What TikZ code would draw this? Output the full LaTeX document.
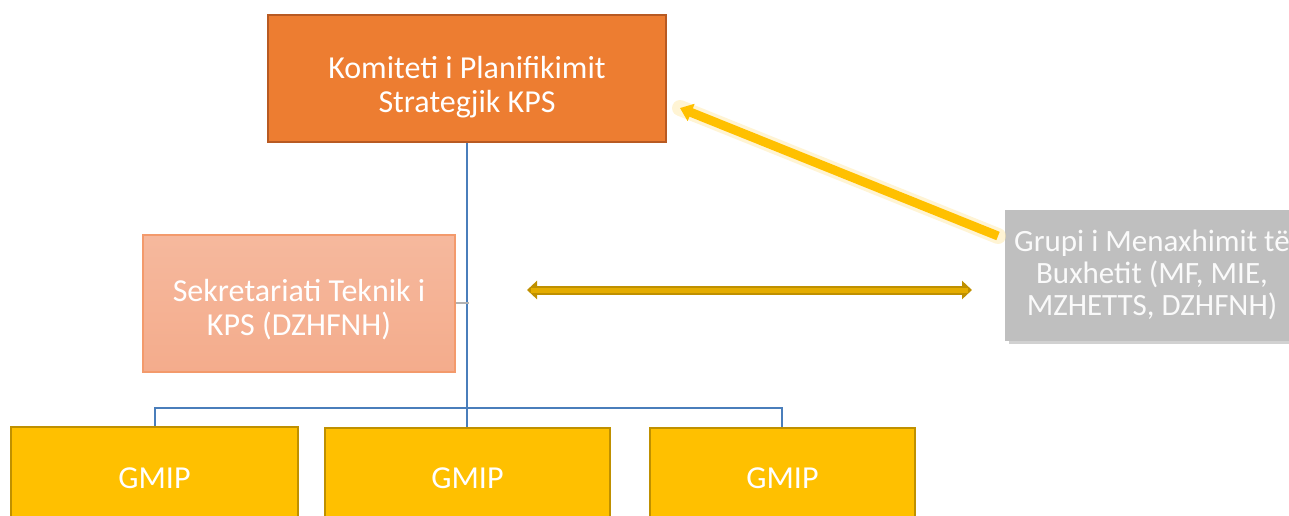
\documentclass[tikz,border=0pt]{standalone}
\usepackage{fontspec}
\setmainfont{Carlito}
\usetikzlibrary{arrows.meta,calc}
\definecolor{korange}{HTML}{ED7D31}
\definecolor{korangeb}{HTML}{B85A22}
\definecolor{ksalmon}{HTML}{F4AC8C}
\definecolor{ksalmonb}{HTML}{F39A6C}
\definecolor{kgray}{HTML}{BFBFBF}
\definecolor{kgold}{HTML}{FFC000}
\definecolor{kgoldb}{HTML}{BF9000}
\definecolor{kblue}{HTML}{4A7EBB}
\definecolor{karrow}{HTML}{D9A300}
\definecolor{kyellow}{HTML}{FFC928}
\tikzset{
  box/.style={draw, rectangle, inner sep=0pt, align=center, text=white,
    font=\fontsize{16}{17}\selectfont},
  boxtext/.style={text=white, align=center, inner sep=0pt,
    font=\fontsize{16}{17}\selectfont},
  link/.style={draw=kblue, line width=1.1pt},
}
\begin{document}
\begin{tikzpicture}[x=0.5pt,y=-0.5pt]
\useasboundingbox (0,0) rectangle (1289,515);
% boxes
\node[box, fill=korange, draw=korangeb, line width=1pt,
  minimum width=199pt, minimum height=63.5pt,
  label={[boxtext, yshift=-4.5pt]center:Komiteti i Planifikimit\\Strategjik KPS}] (kps) at (467,78.5) {};
\node[box, top color=ksalmon!85!white, bottom color=ksalmon, draw=ksalmonb, line width=0.8pt,
  minimum width=156pt, minimum height=68.5pt,
  label={[boxtext, yshift=-3pt]center:Sekretariati Teknik i\\KPS (DZHFNH)}] (sek) at (299,303.5) {};
\fill[black!18] (1009,214) rectangle (1303,344);
\node[box, fill=kgray, draw=kgray, text=white!96!gray,
  font=\fontsize{15.5}{16}\selectfont,
  minimum width=147pt, minimum height=65pt] (grupi) at (1152,275)
  {Grupi i Menaxhimit të\\Buxhetit (MF, MIE,\\MZHETTS, DZHFNH)};
\node[box, fill=kgold, draw=kgoldb, line width=1pt,
  minimum width=143.5pt, minimum height=51pt] (g1) at (154.5,478) {GMIP};
\node[box, fill=kgold, draw=kgoldb, line width=1pt,
  minimum width=142.5pt, minimum height=51pt] (g2) at (467.5,478.5) {GMIP};
\node[box, fill=kgold, draw=kgoldb, line width=1pt,
  minimum width=132.5pt, minimum height=51pt] (g3) at (782.5,478.5) {GMIP};
% org connectors
\coordinate (bus) at (467,408);
\draw[link] (kps.south) -- (bus);
\draw[link] (bus) -- (155,408) -- (g1.north -| 155,0);
\draw[link] (bus) -- (782,408) -- (g3.north -| 782,0);
\draw[link] (bus) -- (g2.north -| 467,0);
\coordinate (st) at (469,303);
\draw[gray!60, line width=0.6pt] (sek.east |- st) -- (st);
% yellow arrow to KPS
\coordinate (ya) at (998,236);
\coordinate (yb) at (680,108);
\draw[kyellow!40, line width=8pt, line cap=round, opacity=0.5] (ya) -- (yb);
\draw[kgold, line width=4.5pt, -{Triangle[width=9pt,length=6pt]}] (ya) -- (yb);
% double arrow
\coordinate (da) at (527,290);
\coordinate (db) at (972,290);
\draw[kgoldb, line width=4.5pt, {Triangle[width=9pt,length=5pt]}-{Triangle[width=9pt,length=5pt]}] (da) -- (db);
\draw[karrow!70!kgold, line width=2.5pt, shorten <=2pt, shorten >=2pt] (da) -- (db);
\end{tikzpicture}
\end{document}
